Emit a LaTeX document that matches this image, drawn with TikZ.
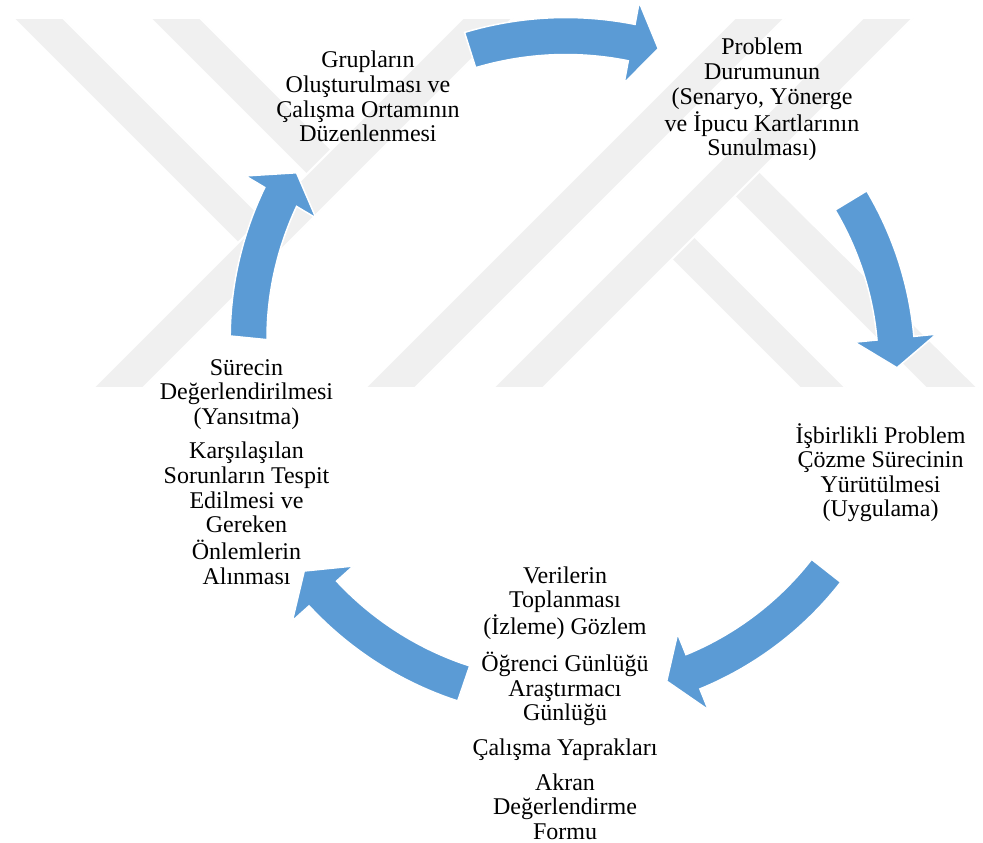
\documentclass[tikz,border=0pt]{standalone}
\usepackage{fontspec}
\setmainfont{Liberation Serif}
\usetikzlibrary{calc}

\definecolor{cycleblue}{HTML}{5B9BD5}
\definecolor{markgray}{HTML}{F0F0F0}

\tikzset{
  arrowbody/.style={fill=cycleblue, draw=white, line width=1.5pt, line join=miter},
  markband/.style={fill=markgray, draw=white, line width=2pt},
  cycletext/.style={anchor=base, inner sep=0pt, font=\fontsize{24}{24.6}\selectfont},
}

% curved block arrow around the hub:
% #1 tail angle, #2 head base angle, #3 tip angle, #4 radius at tail, #5 radius at head
\newcommand\cyclearrow[5]{%
  \path[arrowbody]
    plot[domain=#1:#2, samples=30] (\x:{#4+(#5-(#4))*(\x-(#1))/((#2)-(#1))-18.5})
    -- (#2:{#5-41}) -- (#3:#5) -- (#2:{#5+41})
    -- plot[domain=#2:#1, samples=30] (\x:{#4+(#5-(#4))*(\x-(#1))/((#2)-(#1))+18.5})
    -- cycle;}

\begin{document}
\begin{tikzpicture}[x=1pt, y=1pt]
  % page
  \fill[white] (0,0) rectangle (983,-843);
  \useasboundingbox (0,0) rectangle (983,-843);

  % faint background emblem made of diagonal bands
  \path[markband] (13,-18) -- (63,-18) -- (263,-218) -- (238,-243) -- cycle;
  \path[markband] (150,-18) -- (200,-18) -- (331.5,-149.5) -- (306.5,-174.5) -- cycle;
  \path[markband] (93,-388) -- (143,-388) -- (513,-18) -- (463,-18) -- cycle;
  \path[markband] (365,-388) -- (415,-388) -- (785,-18) -- (735,-18) -- cycle;
  \path[markband] (646.5,-234.5) -- (669.5,-211.5) -- (846,-388) -- (800,-388) -- cycle;
  \path[markband] (709.5,-171.5) -- (734.5,-146.5) -- (978,-388) -- (926,-388) -- cycle;
  \path[markband] (493,-388) -- (543,-388) -- (913,-18) -- (863,-18) -- cycle;

  % cycle arrows
  \coordinate (hub) at (571,-370);
  \begin{scope}[shift={(hub)}]
    \cyclearrow{107.5}{79.5}{74.8}{335.5}{333}
    \cyclearrow{31.2}{5.6}{0.4}{327.3}{326}
    \cyclearrow{-38.2}{-68}{-72.9}{324.7}{325.5}
    \cyclearrow{-108.9}{-138}{-143}{331.3}{334}
    \cyclearrow{174.3}{149.2}{144.3}{324}{338}
  \end{scope}

  % stage texts
  \node[cycletext] (grp) at (368,-68) {\begin{tabular}[t]{@{}c@{}}Grupların\\Oluşturulması ve\\Çalışma Ortamının\\Düzenlenmesi\end{tabular}};
  \node[cycletext] (prob) at (762,-55) {\begin{tabular}[t]{@{}c@{}}Problem\\Durumunun\\(Senaryo, Yönerge\\ve İpucu Kartlarının\\Sunulması)\end{tabular}};
  \node[cycletext] (isb) at (880.5,-443) {\begin{tabular}[t]{@{}c@{}}İşbirlikli Problem\\Çözme Sürecinin\\Yürütülmesi\\(Uygulama)\end{tabular}};
  \node[cycletext] (veri) at (565,-583) {\begin{tabular}[t]{@{}c@{}}Verilerin\\Toplanması\\(İzleme) Gözlem\\[10pt]Öğrenci Günlüğü\\Araştırmacı\\Günlüğü\\[10pt]Çalışma Yaprakları\\[10pt]Akran\\Değerlendirme\\Formu\end{tabular}};
  \node[cycletext] (surec) at (246.5,-375) {\begin{tabular}[t]{@{}c@{}}Sürecin\\Değerlendirilmesi\\(Yansıtma)\\[10pt]Karşılaşılan\\Sorunların Tespit\\Edilmesi ve\\Gereken\\Önlemlerin\\Alınması\end{tabular}};
\end{tikzpicture}
\end{document}
